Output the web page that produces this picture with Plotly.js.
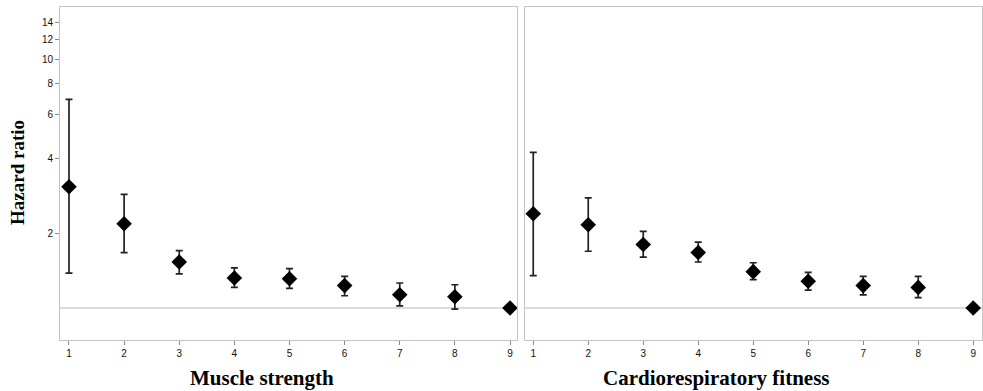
<!DOCTYPE html>
<html>
<head>
<meta charset="utf-8">
<script src="https://cdn.plot.ly/plotly-3.0.1.min.js"></script>
<style>html,body{margin:0;padding:0;background:#fff;}#chart{width:983px;height:391px;}</style>
</head>
<body>
<div id="chart"></div>
<script>
// Categories (quantile groups)
const groups = [1, 2, 3, 4, 5, 6, 7, 8, 9];

// Muscle strength: hazard ratio and 95% CI
const msHR    = [3.07, 2.18, 1.53, 1.32, 1.31, 1.23, 1.13, 1.11, 1.00];
const msLower = [1.38, 1.67, 1.37, 1.21, 1.20, 1.12, 1.02, 0.99, 1.00];
const msUpper = [6.89, 2.86, 1.70, 1.45, 1.44, 1.34, 1.26, 1.24, 1.00];

// Cardiorespiratory fitness: hazard ratio and 95% CI
const crfHR    = [2.39, 2.16, 1.80, 1.67, 1.40, 1.28, 1.23, 1.21, 1.00];
const crfLower = [1.35, 1.69, 1.60, 1.53, 1.30, 1.18, 1.13, 1.10, 1.00];
const crfUpper = [4.22, 2.77, 2.03, 1.84, 1.52, 1.39, 1.34, 1.34, 1.00];

// Tick labels
const yTicks = [2, 4, 6, 8, 10, 12, 14];
const xTicks = groups;

function trace(hr, lo, up, xa, ya) {
  const plus = hr.map((v, i) => up[i] - v);
  const minus = hr.map((v, i) => v - lo[i]);
  const hasBar = hr.map((v, i) => up[i] !== lo[i]);
  return {
    type: 'scatter', mode: 'markers', x: groups, y: hr, xaxis: xa, yaxis: ya,
    marker: {symbol: 'diamond', size: 12, color: '#000'},
    error_y: {type: 'data', symmetric: false,
      array: plus.map((d, i) => hasBar[i] ? d : 0),
      arrayminus: minus.map((d, i) => hasBar[i] ? d : 0),
      color: '#222', thickness: 1.7, width: 3.5},
    showlegend: false, hoverinfo: 'skip'
  };
}

const data = [
  trace(msHR, msLower, msUpper, 'x', 'y'),
  trace(crfHR, crfLower, crfUpper, 'x2', 'y2')
];

const lineCol = '#c4c4c4';
const tickFont = {family: 'Liberation Sans, Arial, sans-serif', size: 10, color: '#111'};
const titleFont = {family: 'Liberation Serif, Times New Roman, serif', size: 21, color: '#000', weight: 'bold'};
const yRange = [-0.1285, 1.209];
const xBase = {showgrid: false, zeroline: false, showline: true, linecolor: lineCol, linewidth: 1,
  mirror: true, ticks: 'outside', ticklen: 4, tickcolor: '#888', tickwidth: 1,
  tickmode: 'array', tickvals: xTicks, ticktext: xTicks.map(String), tickfont: tickFont, fixedrange: true};

const layout = {
  width: 983, height: 391,
  margin: {l: 0, r: 0, t: 0, b: 0},
  paper_bgcolor: '#fff', plot_bgcolor: '#fff',
  xaxis: Object.assign({}, xBase, {domain: [60/983, 517/983], range: [0.837, 9.127], anchor: 'y'}),
  xaxis2: Object.assign({}, xBase, {domain: [525/983, 982/983], range: [0.85, 9.16], anchor: 'y2'}),
  yaxis: {type: 'log', domain: [1 - 340/391, 1 - 7/391], range: yRange, anchor: 'x',
    showgrid: false, zeroline: false, showline: true, linecolor: lineCol, mirror: true,
    ticks: 'outside', ticklen: 4, tickcolor: '#888', tickmode: 'array', tickvals: yTicks,
    ticktext: yTicks.map(String), tickfont: tickFont, fixedrange: true},
  yaxis2: {type: 'log', domain: [1 - 340/391, 1 - 7/391], range: yRange, anchor: 'x2',
    showgrid: false, zeroline: false, showline: true, linecolor: lineCol, mirror: true,
    ticks: '', showticklabels: false, fixedrange: true},
  shapes: [
    {type: 'line', xref: 'x domain', yref: 'y', x0: 0, x1: 1, y0: 1, y1: 1, line: {color: '#b8b8b8', width: 1}, layer: 'below'},
    {type: 'line', xref: 'x2 domain', yref: 'y2', x0: 0, x1: 1, y0: 1, y1: 1, line: {color: '#b8b8b8', width: 1}, layer: 'below'}
  ],
  annotations: [
    {text: 'Muscle strength', xref: 'paper', yref: 'paper', x: 262/983, y: 1 - 378/391,
     xanchor: 'center', yanchor: 'middle', showarrow: false, font: titleFont},
    {text: 'Cardiorespiratory fitness', xref: 'paper', yref: 'paper', x: 716/983, y: 1 - 378/391,
     xanchor: 'center', yanchor: 'middle', showarrow: false, font: titleFont},
    {text: 'Hazard ratio', xref: 'paper', yref: 'paper', x: 18/983, y: 1 - 173/391,
     xanchor: 'center', yanchor: 'middle', showarrow: false, textangle: -90,
     font: Object.assign({}, titleFont, {size: 19})}
  ]
};

Plotly.newPlot('chart', data, layout, {staticPlot: true, displayModeBar: false});
</script>
</body>
</html>
